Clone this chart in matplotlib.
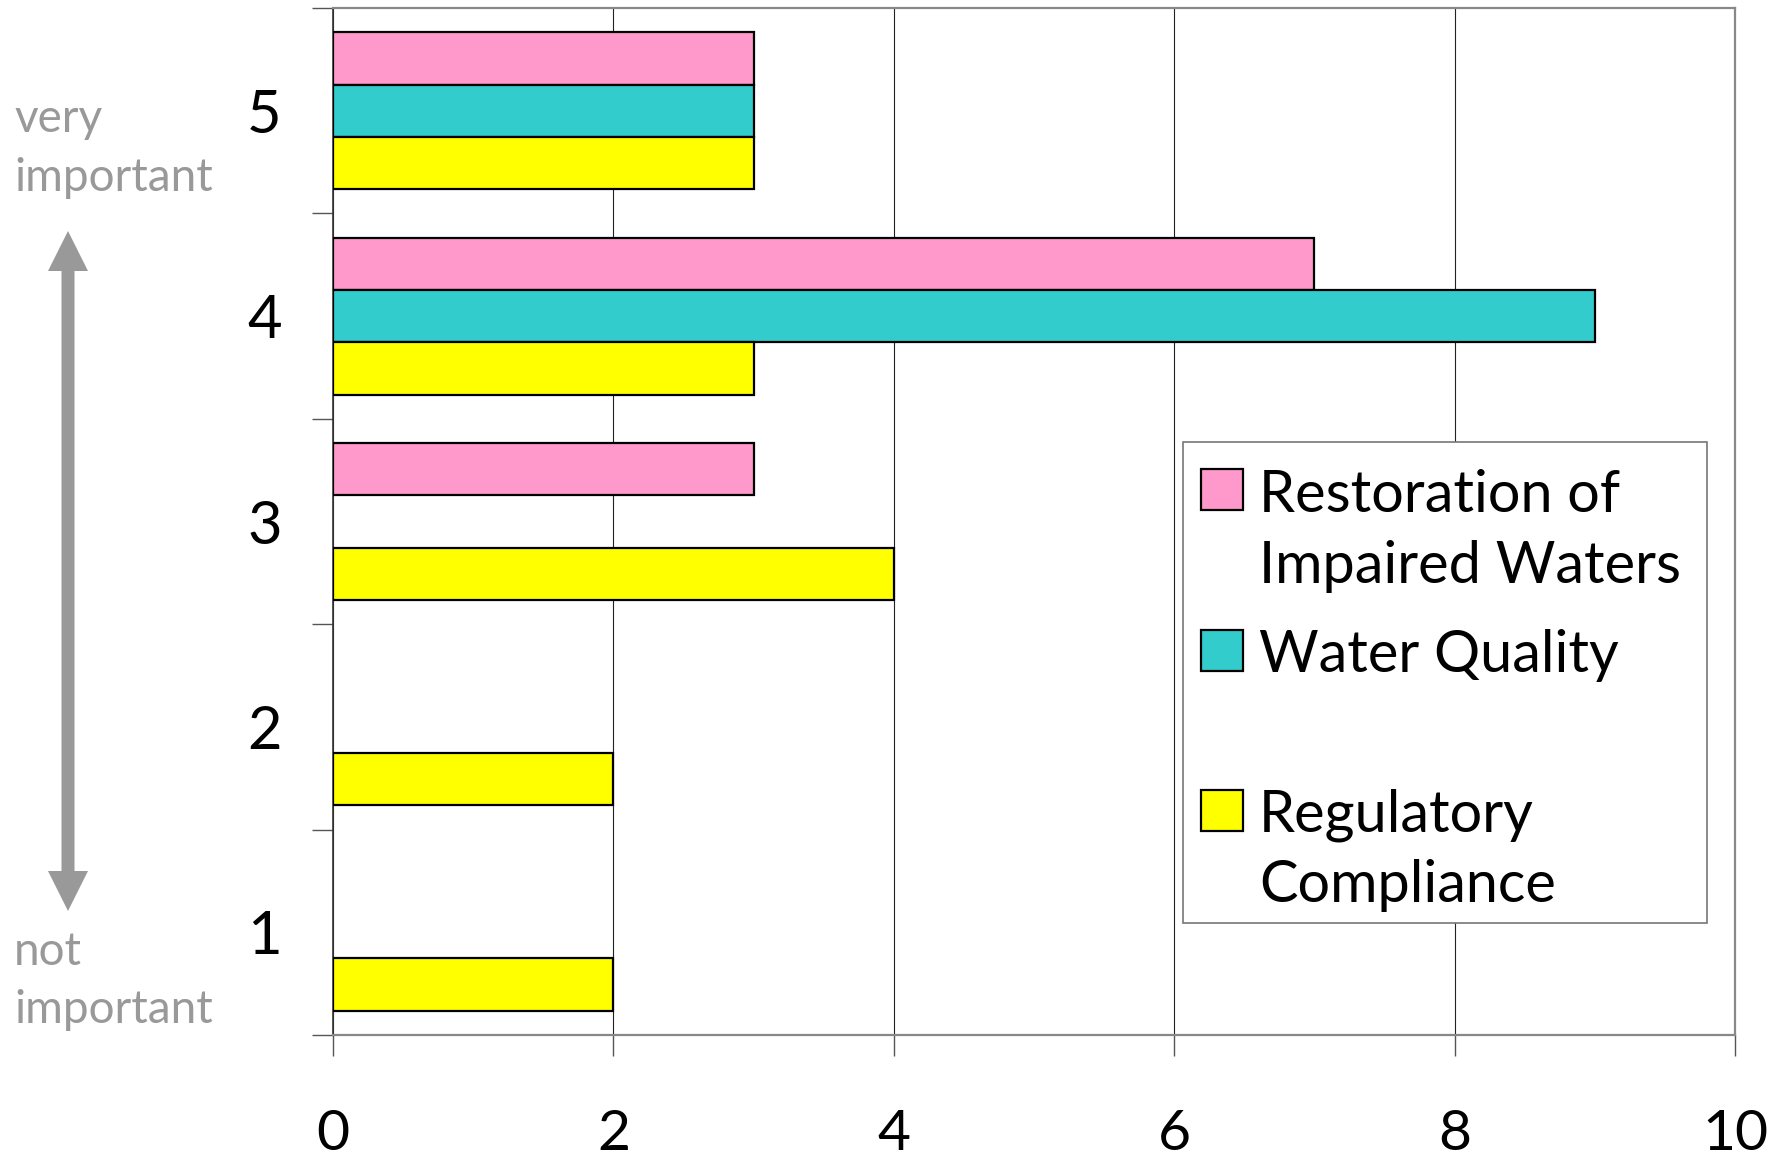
import numpy as np
import matplotlib
matplotlib.use("Agg")
import matplotlib.pyplot as plt
from matplotlib.patches import Rectangle, Polygon

plt.rcParams['font.family'] = ['Lato', 'DejaVu Sans']

# importance rating (1 = not important, 5 = very important) -> number of answers
ratings = np.array([1, 2, 3, 4, 5])
restoration = np.array([0, 0, 3, 7, 3])
water_quality = np.array([0, 0, 0, 9, 3])
regulatory = np.array([2, 2, 4, 3, 3])

series_names = ["Restoration of\nImpaired Waters", "Water Quality", "Regulatory\nCompliance"]
series_colors = ["#FF99CC", "#33CCCC", "#FFFF00"]
x_ticks = [0, 2, 4, 6, 8, 10]

W, H = 1787, 1160
fig = plt.figure(figsize=(W / 100, H / 100), dpi=100)
ax = fig.add_axes([333 / W, 1 - 1035 / H, (1735 - 333) / W, (1035 - 8) / H])


def fxy(x, y):
    # pixel position (from top-left) -> figure fraction
    return x / W, 1 - y / H


bar_h = 0.255
offsets = [bar_h, 0, -bar_h]
for vals, off, col in zip([restoration, water_quality, regulatory], offsets, series_colors):
    keep = vals > 0
    ax.barh(ratings[keep] + off, vals[keep], height=bar_h, color=col,
            edgecolor="black", linewidth=1.6, zorder=3)

ax.set_xlim(0, 10)
ax.set_ylim(0.5, 5.5)
ax.set_xticks(x_ticks)
ax.set_xticklabels([str(t) for t in x_ticks])
ax.set_yticks(ratings)
ax.set_yticklabels([str(r) for r in ratings])
ax.set_yticks(np.arange(0.5, 6, 1), minor=True)
ax.xaxis.grid(True, color="#222222", linewidth=0.8, zorder=0)
ax.tick_params(axis="x", direction="out", length=15, width=1, color="#555555",
               labelsize=41, pad=38)
ax.tick_params(axis="y", which="major", length=0, labelsize=43, pad=37)
ax.tick_params(axis="y", which="minor", direction="out", length=15, width=1, color="#555555")

for side in ["top", "right", "bottom"]:
    ax.spines[side].set_color("#888888")
    ax.spines[side].set_linewidth(1.6)
ax.spines["left"].set_color("#333333")
ax.spines["left"].set_linewidth(1.2)

# side annotation
grey = "#999999"
for txt, y in [("very", 132), ("important", 191), ("not", 965), ("important", 1023)]:
    fig.text(*fxy(14, y), txt, fontsize=33, color=grey, va="baseline", ha="left")

# double-headed arrow
ax_x, shaft = 68, 6.5
head_w, head_l = 20, 40
top, bot = 231, 911
pts = [(ax_x, top), (ax_x + head_w, top + head_l), (ax_x + shaft, top + head_l),
       (ax_x + shaft, bot - head_l), (ax_x + head_w, bot - head_l), (ax_x, bot),
       (ax_x - head_w, bot - head_l), (ax_x - shaft, bot - head_l),
       (ax_x - shaft, top + head_l), (ax_x - head_w, top + head_l)]
fig.patches.append(Polygon([fxy(x, y) for x, y in pts], closed=True, facecolor=grey,
                           edgecolor="none", transform=fig.transFigure, figure=fig))

# legend drawn by hand so the swatches sit on the first text line
lx0, ly0 = fxy(1183, 923)
lx1, ly1 = fxy(1707, 442)
fig.patches.append(Rectangle((lx0, ly0), lx1 - lx0, ly1 - ly0, facecolor="white",
                             edgecolor="#777777", linewidth=1.2,
                             transform=fig.transFigure, figure=fig, zorder=5))
swatch_tops = [469, 630, 790]
baselines = [[512, 583], [672], [831, 902]]
for name, col, st, bls in zip(series_names, series_colors, swatch_tops, baselines):
    sx, sy = fxy(1201, st + 41)
    fig.patches.append(Rectangle((sx, sy), 42 / W, 41 / H, facecolor=col,
                                 edgecolor="black", linewidth=1.6,
                                 transform=fig.transFigure, figure=fig, zorder=6))
    for line, bl in zip(name.split("\n"), bls):
        fig.text(*fxy(1259, bl), line, fontsize=41.5, va="baseline", ha="left", zorder=7)

plt.savefig("out.png", dpi=100)
